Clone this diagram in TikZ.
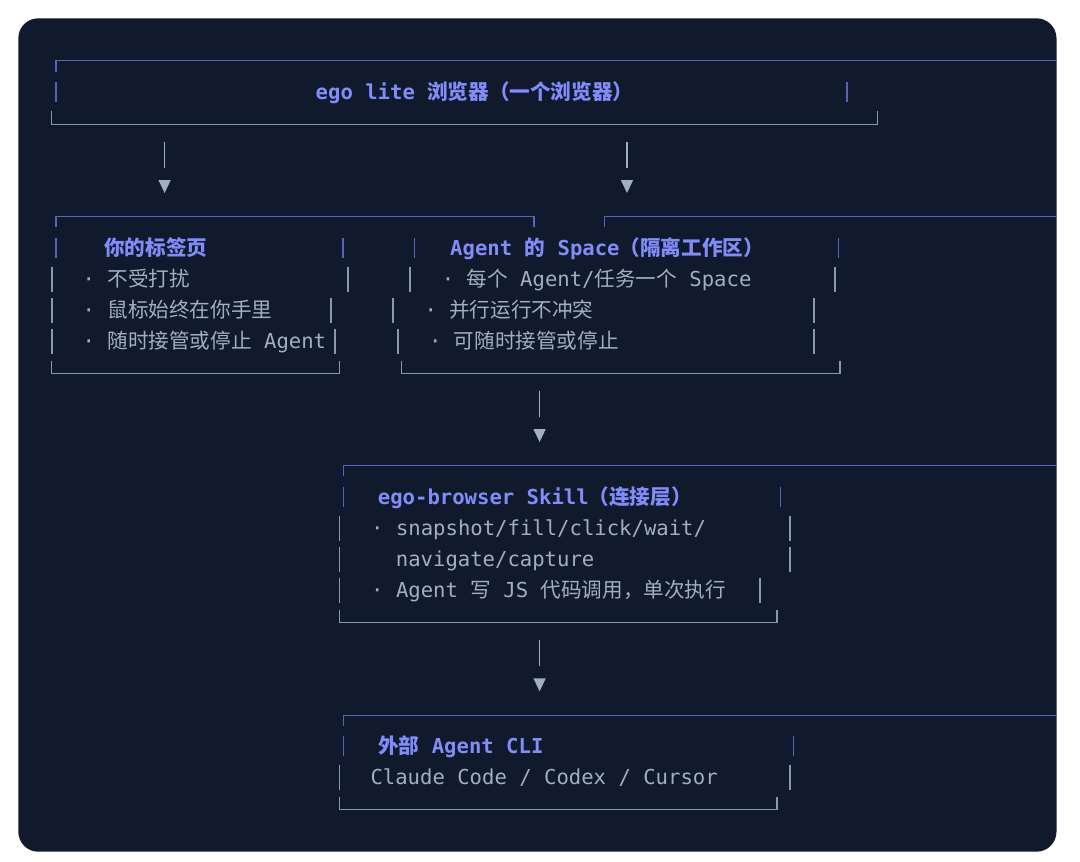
\documentclass[tikz,border=0pt]{standalone}
\usepackage{fontspec}
\setmonofont{DejaVu Sans Mono}
\newfontfamily\cjk{Noto Sans CJK SC}
\newcommand\zh[1]{{\cjk #1}}
\definecolor{panel}{RGB}{17,25,45}
\definecolor{rulec}{RGB}{88,98,184}
\definecolor{headc}{RGB}{129,140,248}
\definecolor{textc}{RGB}{163,174,192}
\definecolor{linec}{RGB}{139,151,170}

\begin{document}
\begin{tikzpicture}[x=1pt, y=-1pt,
    toprule/.style={draw=rulec, line width=1.5pt},
    botrule/.style={draw=linec, line width=1.5pt},
    headbar/.style={draw=rulec, line width=1.5pt},
    bodybar/.style={draw=linec, line width=1.6pt},
    head/.style={anchor=base west, inner sep=0pt, text=headc, font=\ttfamily\bfseries\fontsize{20.6}{31}\selectfont},
    item/.style={anchor=base west, inner sep=0pt, text=textc, font=\ttfamily\fontsize{20.6}{31}\selectfont},
    arrowbar/.style={draw=textc, line width=1.6pt},
    arrowtip/.style={fill=textc}]
        \useasboundingbox (0,0) rectangle (1080,862);
        \fill[white] (0,0) rectangle (1080,862);
        \fill[panel, rounded corners=20pt] (18.3,18.3) rectangle (1056.5,851.7);

        \draw[toprule] (55.8,71.7) -- (55.8,60.7) -- (1056.5,60.7);
        \draw[botrule] (51.7,110.7) -- (51.7,124.3) -- (877.5,124.3) -- (877.5,110.7);
        \draw[toprule] (55.8,226.7) -- (55.8,216.7) -- (533.8,216.7) -- (533.8,226.7);
        \draw[botrule] (51.7,360.7) -- (51.7,373.3) -- (339.6,373.3) -- (339.6,360.7);
        \draw[toprule] (604.7,226.7) -- (604.7,216.7) -- (1056.5,216.7);
        \draw[botrule] (401.6,360.7) -- (401.6,373.3) -- (840,373.3) -- (840,360.7);
        \draw[toprule] (343.3,476) -- (343.3,465.7) -- (1056.5,465.7);
        \draw[botrule] (339.4,610) -- (339.4,622.7) -- (777,622.7) -- (777,610);
        \draw[toprule] (343.3,725.6) -- (343.3,715.3) -- (1056.5,715.3);
        \draw[botrule] (339.4,796.7) -- (339.4,809.3) -- (777,809.3) -- (777,796.7);

        \foreach \x/\y in {55.8/92, 847.2/92, 55.8/248, 343/248, 414.3/248, 838.6/248,
                343.3/497, 780.5/497, 343.3/746, 793.6/746}
            \draw[headbar] (\x,\y-10) -- (\x,\y+10);
        \foreach \x/\y in {52/279, 347.9/279, 52/310, 331/310, 52/341, 335/341,
                410.2/279, 835/279, 393/310, 813.8/310, 398/341, 813.8/341,
                339.4/528, 790/528, 339.4/559, 790/559, 339.4/590, 760/590,
                339.4/777, 790/777}
            \draw[bodybar] (\x,\y-12.5) -- (\x,\y+12.5);

        \node[head] (browser) at (315.5,99.5) {ego lite \zh{浏览器（一个浏览器）}};

        \node[head] (tabs) at (104,255.5) {\zh{你的标签页}};
        \node[item] (tabs1) at (82.5,286.5) {· \zh{不受打扰}};
        \node[item] (tabs2) at (82.5,317.5) {· \zh{鼠标始终在你手里}};
        \node[item] (tabs3) at (82.5,348.5) {· \zh{随时接管或停止} Agent};

        \node[head] (space) at (450,255.5) {Agent \zh{的} Space\zh{（隔离工作区）}};
        \node[item] (space1) at (441.6,286.5) {· \zh{每个} Agent/\zh{任务一个} Space};
        \node[item] (space2) at (424.3,317.5) {· \zh{并行运行不冲突}};
        \node[item] (space3) at (428.8,348.5) {· \zh{可随时接管或停止}};

        \node[head] (skill) at (377.7,504.5) {ego-browser Skill\zh{（连接层）}};
        \node[item] (skill1) at (371,535.5) {· snapshot/fill/click/wait/};
        \node[item] (skill2) at (395.7,566.5) {navigate/capture};
        \node[item] (skill3) at (371,597.5) {· Agent \zh{写} JS \zh{代码调用，单次执行}};

        \node[head] (cli) at (378,753.5) {\zh{外部} Agent CLI};
        \node[item] (cli1) at (370.3,784.5) {Claude Code / Codex / Cursor};

        \foreach \x/\y [count=\i] in {164.6/141.7, 627/141.7, 539.6/390.7, 539.6/640} {
            \coordinate (arr\i s) at (\x,\y);
            \coordinate (arr\i e) at (\x,\y+26);
            \draw[arrowbar] (arr\i s) -- (arr\i e);
            \fill[arrowtip] (arr\i e) ++(-6.2,12.3) -- ++(12.4,0) -- ++(-6.2,13) -- cycle;
        }
    \end{tikzpicture}
\end{document}
